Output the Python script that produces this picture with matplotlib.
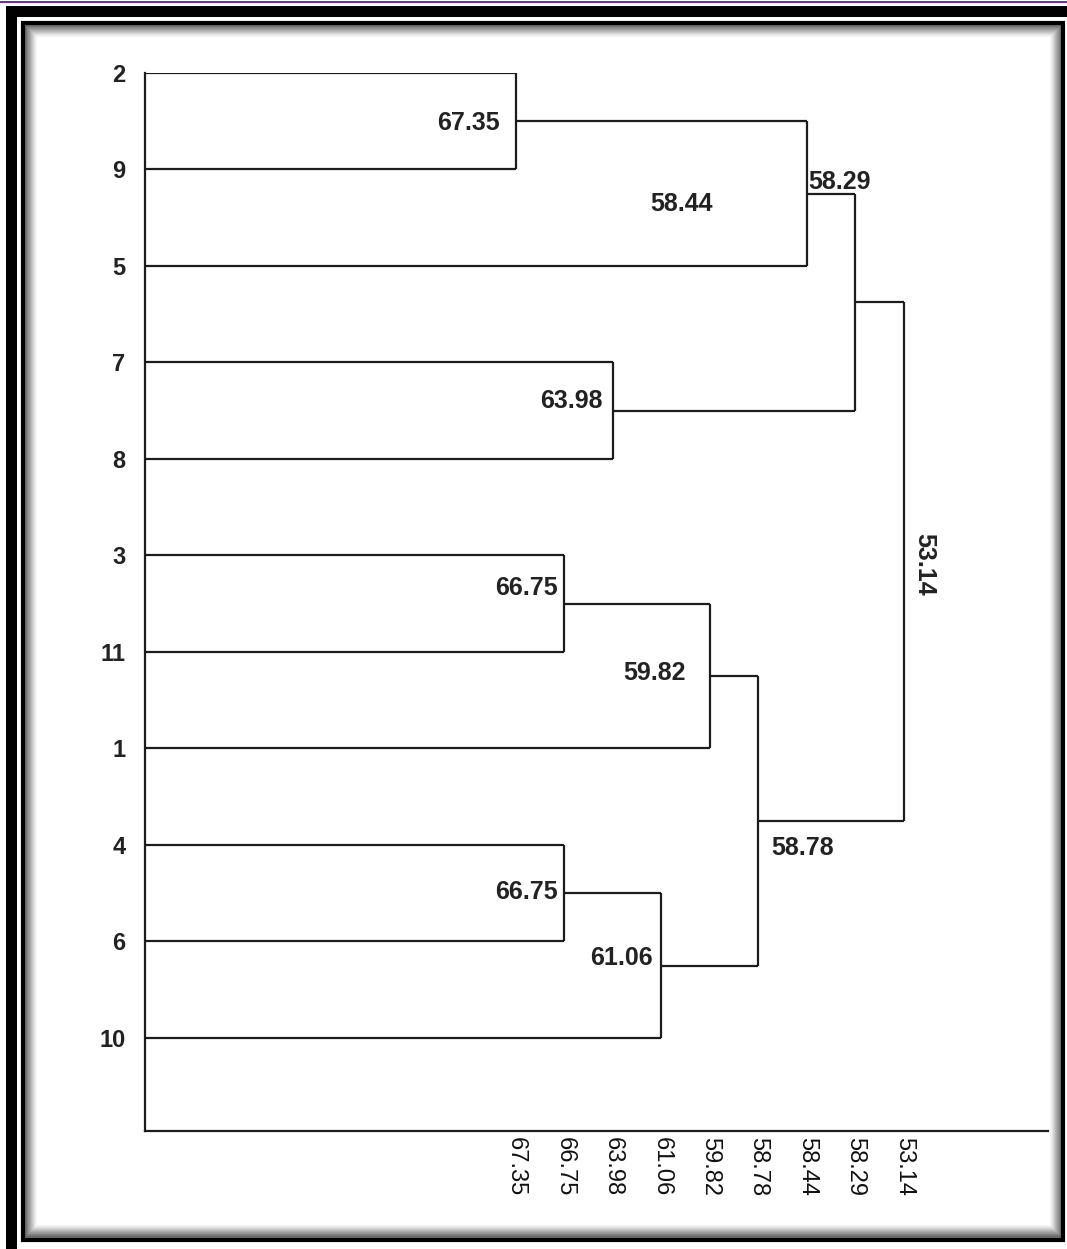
import matplotlib
matplotlib.use("Agg")
import matplotlib.pyplot as plt
from matplotlib.patches import Rectangle
import numpy as np

# ---------------- data ----------------
leaves = ['2', '9', '5', '7', '8', '3', '11', '1', '4', '6', '10']
merge_a = ['2', 'c0', '7', 'c1', '3', 'c4', '4', 'c6', 'c5', 'c3']
merge_b = ['9', '5', '8', 'c2', '11', '1', '6', '10', 'c7', 'c8']
merge_height = [67.35, 58.44, 63.98, 58.29, 66.75, 59.82, 66.75, 61.06, 58.78, 53.14]
levels = [67.35, 66.75, 63.98, 61.06, 59.82, 58.78, 58.44, 58.29, 53.14]
level_labels = ['67.35', '66.75', '63.98', '61.06', '59.82', '58.78', '58.44', '58.29', '53.14']

# label offsets (pixels, dx right, dy down) relative to each merge node -- layout only
label_offsets = [(-48, 2), (-125, 10), (-42, -10), (-16, -120), (-38, -16),
                 (-55, -3), (-38, -1), (-40, -8), (44, 27), (20, 3)]

W, H = 1067, 1249
fig = plt.figure(figsize=(W / 100, H / 100), dpi=100)

# ---------------- frame (background axes in pixel coords) ----------------
bg = fig.add_axes([0, 0, 1, 1])
bg.set_xlim(0, W)
bg.set_ylim(H, 0)
bg.axis('off')
bg.add_patch(Rectangle((0, 0.5), W, 2.5, color='#7030a0', lw=0))
bg.add_patch(Rectangle((6, 6), W - 6, 11, color='black', lw=0))
bg.add_patch(Rectangle((6, 6), 11, H - 6, color='black', lw=0))
# inner shadow
for k in range(12):
    g = 0.35 + 0.65 * k / 12
    bg.add_patch(Rectangle((25 + k, 25 + k), 1037 - 2 * k, 1212 - 2 * k,
                           fill=False, ec=(g, g, g), lw=1.2))
bg.add_patch(Rectangle((22.5, 22.5), 1040, 1217, fill=False, ec='black', lw=3.0))

# ---------------- dendrogram ----------------
ax = fig.add_axes([145 / W, 1 - 1131 / H, (1048 - 145) / W, (1131 - 73) / H])
ax.patch.set_alpha(0)
xl, xr = -7.649, 10.969
ax.set_xlim(xl, xr)
ax.set_ylim(len(leaves) - 1 + 0.964, 0)

line_kw = dict(color='#1c1c1c', lw=1.6, solid_capstyle='butt')

rank = {v: i for i, v in enumerate(levels)}
pos = {name: (xl, i) for i, name in enumerate(leaves)}
lab_font = ['Liberation Sans Narrow', 'Liberation Sans', 'DejaVu Sans']
for k, (a, b, h) in enumerate(zip(merge_a, merge_b, merge_height)):
    xa, ya = pos[a]
    xb, yb = pos[b]
    xm = rank[h]
    ax.plot([xa, xm], [ya, ya], **line_kw)
    ax.plot([xb, xm], [yb, yb], **line_kw)
    ax.plot([xm, xm], [ya, yb], **line_kw)
    ym = (ya + yb) / 2
    pos['c%d' % k] = (xm, ym)
    dx, dy = label_offsets[k]
    rot = 270 if k == len(merge_height) - 1 else 0
    ax.annotate('%.2f' % h, (xm, ym), xytext=(dx * 0.72, -dy * 0.72),
                textcoords='offset points', ha='center', va='center',
                fontsize=18, fontweight='bold', family=lab_font,
                color='#222222', rotation=rot)

for s in ['top', 'right']:
    ax.spines[s].set_visible(False)
for s in ['left', 'bottom']:
    ax.spines[s].set_color('#1c1c1c')
    ax.spines[s].set_linewidth(1.6)

ax.set_yticks(range(len(leaves)))
ax.set_yticklabels(leaves, fontsize=17, fontweight='bold',
                   family=['Liberation Sans', 'DejaVu Sans'], color='#222222')
ax.set_xticks(range(len(levels)))
ax.set_xticklabels(level_labels, rotation=270, fontsize=17,
                   family=['Liberation Sans', 'DejaVu Sans'], color='#111111',
                   va='top', ha='center')
ax.tick_params(axis='y', length=0, pad=14)
ax.tick_params(axis='x', length=0, pad=4)

fig.savefig('out.png', dpi=100)
